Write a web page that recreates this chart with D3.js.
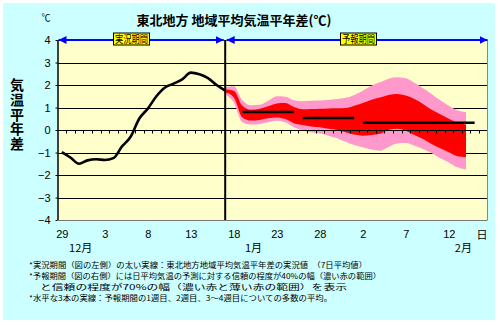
<!DOCTYPE html>
<html><head><meta charset="utf-8">
<script src="https://cdn.jsdelivr.net/npm/d3@7"></script>
<style>html,body{margin:0;padding:0;background:#fff;}svg{display:block;}</style>
</head><body>
<svg id="c" width="500" height="325"></svg>
<script>
// ---- data ----
const dayLabels = ["29","3","8","13","18","23","28","2","7","12"];
const dayLabelIdx = [0,5,10,15,20,25,30,35,40,45];
const monthLabels = ["12月","1月","2月"];
const monthIdx = [2.2,22.3,46.7];
const yTicks = [-4,-3,-2,-1,0,1,2,3,4];
// observed 7-day mean, day index 0 (Dec 29) .. 19 (Jan 17)
const observed = [-0.98,-1.22,-1.5,-1.35,-1.3,-1.33,-1.25,-0.73,-0.3,0.5,0.95,1.5,1.89,2.06,2.25,2.55,2.48,2.31,2.0,1.75];
// forecast band, day index 19 .. 47
const fcStart = 19;
const pinkTop = [1.9,1.95,1.32,1.1,1.12,1.3,1.5,1.48,1.32,1.28,1.3,1.31,1.33,1.38,1.43,1.56,1.75,1.97,2.12,2.28,2.34,2.3,2.1,1.86,1.6,1.32,1.08,0.88,0.8];
const redTop  = [1.8,1.75,1.08,0.9,0.95,1.06,1.18,1.2,1.02,0.92,0.93,0.94,0.96,0.97,0.98,1.08,1.2,1.35,1.45,1.56,1.6,1.53,1.38,1.16,0.9,0.7,0.5,0.32,0.24];
const redBot  = [1.68,1.45,0.56,0.42,0.45,0.52,0.56,0.49,0.3,0.22,0.16,0.12,0.06,0.0,-0.1,-0.2,-0.25,-0.22,-0.17,0.0,0.06,-0.03,-0.22,-0.4,-0.62,-0.81,-0.99,-1.17,-1.21];
const pinkBot = [1.58,1.22,0.34,0.24,0.27,0.34,0.41,0.34,0.12,-0.02,-0.1,-0.16,-0.25,-0.37,-0.52,-0.67,-0.77,-0.87,-0.92,-0.75,-0.6,-0.58,-0.7,-0.84,-1.02,-1.26,-1.44,-1.66,-1.76];
// weekly ensemble means
const weekStart = [21,28,35];
const weekEnd = [27,34,48];
const weekMean = [0.8,0.53,0.32];
const nDays = 50;
const obsEnd = 19;
const notes = [
 "*実況期間（図の左側）の太い実線：東北地方地域平均気温平年差の実況値　（7日平均値）",
 "*予報期間（図の右側）には日平均気温の予測に対する信頼の程度が40%の幅（濃い赤の範囲）",
 "と信頼の程度が70%の幅（濃い赤と薄い赤の範囲）を表示",
 "*水平な3本の実線：予報期間の1週目、2週目、3～4週目についての多数の平均。"
];

// ---- layout ----
const svg = d3.select("#c");
const L=57.5, R=487.5, T=40, B=220;
const x = d3.scaleLinear().domain([-0.5, nDays-0.5]).range([L,R]);
const y = d3.scaleLinear().domain([-4,4]).range([B,T]);
const jp = "'Noto Sans CJK JP','Noto Sans',sans-serif";
const num = "'Liberation Sans',Arial,sans-serif";

svg.append("rect").attr("x",3).attr("y",3).attr("width",492).attr("height",317).attr("fill","#CCFFFF");
svg.append("rect").attr("x",L).attr("y",T).attr("width",R-L).attr("height",B-T).attr("fill","#FFFFCC");

// gridlines
svg.append("g").selectAll("line").data(yTicks.filter(v=>v>-4&&v<4)).join("line")
  .attr("x1",L).attr("x2",R).attr("y1",d=>Math.round(y(d))+0.5).attr("y2",d=>Math.round(y(d))+0.5)
  .attr("stroke","#000").attr("stroke-width",1);

// bands
const idx = d => fcStart + d.i;
const band = pinkTop.map((v,i)=>({i, pt:v, rt:redTop[i], rb:redBot[i], pb:pinkBot[i]}));
const curve = d3.curveMonotoneX;
svg.append("path").datum(band).attr("fill","#FF99CC")
  .attr("d", d3.area().x(d=>x(idx(d))).y0(d=>y(d.pb)).y1(d=>y(d.pt)).curve(curve));
svg.append("path").datum(band).attr("fill","#FF0000")
  .attr("d", d3.area().x(d=>x(idx(d))).y0(d=>y(d.rb)).y1(d=>y(d.rt)).curve(curve));

// week means
svg.append("g").selectAll("line").data(weekMean).join("line")
  .attr("x1",(d,i)=>x(weekStart[i])).attr("x2",(d,i)=>x(weekEnd[i]))
  .attr("y1",d=>y(d)).attr("y2",d=>y(d)).attr("stroke","#000").attr("stroke-width",2.5);

// observed line
svg.append("path").datum(observed).attr("fill","none").attr("stroke","#000").attr("stroke-width",2.6)
  .attr("stroke-linejoin","round")
  .attr("d", d3.line().x((d,i)=>x(i)).y(d=>y(d)).curve(d3.curveMonotoneX));

// zero line with day ticks
const y0 = Math.round(y(0))+0.5;
svg.append("line").attr("x1",L).attr("x2",R).attr("y1",y0).attr("y2",y0).attr("stroke","#000");
svg.append("g").selectAll("line").data(d3.range(nDays-1)).join("line")
  .attr("x1",d=>Math.round(x(d+0.5))+0.5).attr("x2",d=>Math.round(x(d+0.5))+0.5)
  .attr("y1",y0).attr("y2",y0+3).attr("stroke","#000");

// borders
svg.append("line").attr("x1",R).attr("x2",R).attr("y1",T).attr("y2",B).attr("stroke","#888");
svg.append("line").attr("x1",L).attr("x2",R).attr("y1",B+0.5).attr("y2",B+0.5).attr("stroke","#777");
svg.append("line").attr("x1",L).attr("x2",R).attr("y1",T+0.5).attr("y2",T+0.5).attr("stroke","#888");
svg.append("line").attr("x1",L+0.5).attr("x2",L+0.5).attr("y1",T).attr("y2",B).attr("stroke","#000").attr("stroke-width",1.5);
// separator
svg.append("line").attr("x1",x(obsEnd)).attr("x2",x(obsEnd)).attr("y1",T).attr("y2",B).attr("stroke","#000").attr("stroke-width",2);

// y axis
const ya = svg.append("g").attr("transform",`translate(${L},0)`)
  .call(d3.axisLeft(y).tickValues(yTicks).tickSize(2).tickPadding(5).tickFormat(d=>d<0?"−"+(-d):d));
ya.select(".domain").remove();
ya.selectAll("text").attr("font-family",num).attr("font-size",11).attr("fill","#000");
ya.selectAll("line").attr("stroke","#000");

// x labels
const xa = svg.append("g").attr("transform",`translate(0,${B})`)
  .call(d3.axisBottom(x).tickValues(dayLabelIdx).tickSize(0).tickPadding(10).tickFormat((d,i)=>dayLabels[i]));
xa.select(".domain").remove();
xa.selectAll("text").attr("font-family",num).attr("font-size",11).attr("fill","#000");
svg.append("text").attr("x",x(48.85)).attr("y",239).attr("text-anchor","middle")
  .attr("font-family",jp).attr("font-size",11).text("日");
svg.append("g").selectAll("text").data(monthLabels).join("text")
  .attr("x",(d,i)=>x(monthIdx[i])).attr("y",252).attr("text-anchor","middle")
  .attr("font-family",jp).attr("font-size",11).text(d=>d);

// arrows
const defs = svg.append("defs");
defs.append("marker").attr("id","ar").attr("viewBox","0 0 10 10").attr("refX",10).attr("refY",5)
  .attr("markerWidth",4).attr("markerHeight",4).attr("orient","auto-start-reverse").attr("markerUnits","strokeWidth")
  .append("path").attr("d","M0,0L10,5L0,10Z").attr("fill","#0000FF");
function arrow(a,b){
  svg.append("line").attr("x1",a).attr("x2",b).attr("y1",T).attr("y2",T).attr("stroke","#0000FF").attr("stroke-width",2)
    .attr("marker-start","url(#ar)").attr("marker-end","url(#ar)");
}
arrow(L+1, x(obsEnd)-1.5);
arrow(x(obsEnd)+1.5, R);
function box(cx,label){
  const w=36,h=12;
  svg.append("rect").attr("x",cx-w/2).attr("y",T-7).attr("width",w).attr("height",h).attr("fill","#FFFF00").attr("stroke","#000").attr("stroke-width",1);
  svg.append("text").attr("x",cx).attr("y",T+3).attr("text-anchor","middle").attr("font-family",jp)
    .attr("font-size",10).attr("textLength",33).attr("lengthAdjust","spacingAndGlyphs").text(label);
}
box(131.5,"実況期間");
box(358.5,"予報期間");

// titles
svg.append("text").attr("x",234).attr("y",25).attr("text-anchor","middle").attr("font-family",jp)
  .attr("font-weight","bold").attr("font-size",13).text("東北地方 地域平均気温平年差(℃)");
svg.append("text").attr("x",46).attr("y",21).attr("text-anchor","middle").attr("font-family",jp)
  .attr("font-size",9).text("℃");
// vertical y-axis title as a single text
svg.append("text").attr("x",17).attr("y",78).attr("font-family",jp)
  .attr("font-weight","bold").attr("font-size",14)
  .style("writing-mode","vertical-rl").attr("letter-spacing",0.6).text("気温平年差");

// notes
const noteX = [29,29,40,29];
const noteY = [268,279,290,301];
const noteW = [338,352,307,303];
svg.append("g").selectAll("text").data(notes).join("text")
  .attr("x",(d,i)=>noteX[i]).attr("y",(d,i)=>noteY[i]).attr("font-family",jp).attr("font-size",7.5)
  .attr("textLength",(d,i)=>noteW[i]).attr("lengthAdjust","spacingAndGlyphs").text(d=>d);
</script>
</body></html>
